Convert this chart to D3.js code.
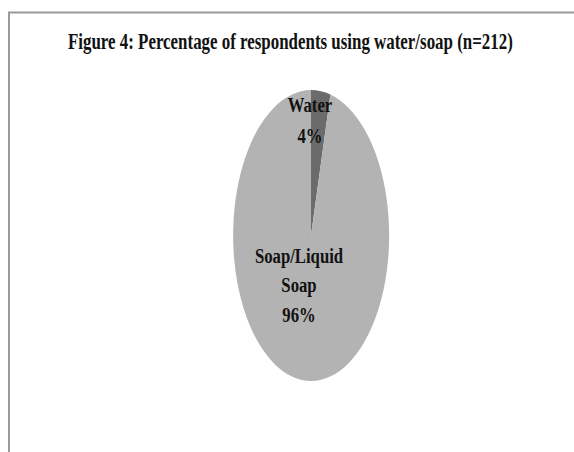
<!DOCTYPE html>
<html>
<head>
<meta charset="utf-8">
<script src="https://cdn.jsdelivr.net/npm/d3@7"></script>
<style>
  html, body { margin: 0; padding: 0; background: #ffffff; }
  svg { display: block; }
  text { font-family: "Liberation Serif", "DejaVu Serif", serif; font-weight: bold; fill: #111; }
</style>
</head>
<body>
<svg id="chart" width="574" height="452"></svg>
<script>
// Data
const categories = ["Water", "Soap/Liquid Soap"];
const values = [4, 96];
const labelLines = [["Water", "4%"], ["Soap/Liquid", "Soap", "96%"]];
const titleText = "Figure 4: Percentage of respondents using water/soap (n=212)";

// Layout
const W = 574, H = 452;
const cx = 311, cy = 235.5, rx = 78, ry = 145.5;
const colors = d3.scaleOrdinal().domain(categories).range(["#6b6b6b", "#b3b3b3"]);

const svg = d3.select("#chart");

// Frame: top and left edges of the chart area
svg.append("path")
  .attr("d", `M9,${H} V12.5 H${W}`)
  .attr("fill", "none")
  .attr("stroke", "#9a9a9a")
  .attr("stroke-width", 2);

// Title, squeezed horizontally to a condensed look
const titleG = svg.append("g");
const title = titleG.append("text")
  .attr("x", 0).attr("y", 0)
  .attr("font-size", 24)
  .text(titleText);
const natural = title.node().getComputedTextLength();
const titleWidth = 445;
titleG.attr("transform", `translate(68,48.5) scale(${titleWidth / natural},1)`);

// Pie, drawn on a unit circle and stretched into an ellipse
const pie = d3.pie().sort(null).value(d => d)(values);
const arc = d3.arc().innerRadius(0).outerRadius(1);

const g = svg.append("g")
  .attr("transform", `translate(${cx},${cy}) scale(${rx},${ry})`);

g.selectAll("path.slice")
  .data(pie)
  .join("path")
  .attr("class", "slice")
  .attr("d", arc)
  .attr("fill", (d, i) => colors(categories[i]));

// Data labels (offsets from pie centre, in pixels)
const labelAnchors = [
  { dx: -1, y0: 112, gap: 31 },
  { dx: -12, y0: 263, gap: 29.5 }
];

pie.forEach((d, i) => {
  const a = labelAnchors[i];
  const t = svg.append("g")
    .attr("transform", `translate(${cx + a.dx},0) scale(0.76,1)`);
  labelLines[i].forEach((ln, k) => {
    t.append("text")
      .attr("x", 0)
      .attr("y", a.y0 + k * a.gap)
      .attr("text-anchor", "middle")
      .attr("font-size", 22)
      .text(ln);
  });
});
</script>
</body>
</html>
